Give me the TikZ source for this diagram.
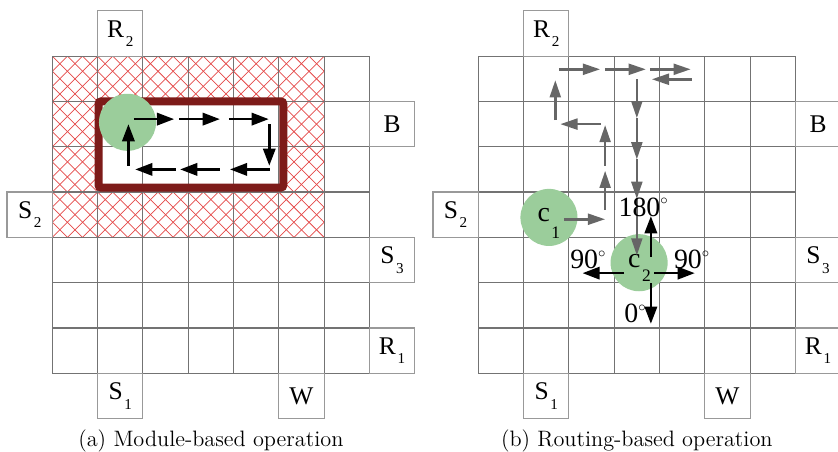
\documentclass[tikz,border=0pt]{standalone}
\usepackage{fontspec}
\usetikzlibrary{arrows.meta}
\newfontfamily\lblfont{Liberation Serif}
\definecolor{modred}{RGB}{125,27,25}
\definecolor{cellgreen}{RGB}{155,205,155}
\definecolor{routegray}{RGB}{102,102,102}
\definecolor{hatchred}{RGB}{228,72,72}
\newcommand{\sublbl}[2]{#1\kern1pt\raisebox{-6pt}{\fontsize{9.5}{9.5}\selectfont #2}}
\newcommand{\dropnum}[2]{c\kern1pt\smash{\raisebox{-#1}{\fontsize{11}{11}\selectfont #2}}}
\newcommand{\degsign}{\raisebox{7pt}{$\scriptscriptstyle\circ$}}

\begin{document}
\begin{tikzpicture}[x=1cm,y=1cm,
    gridline/.style={black!55,line width=0.7pt},
    cellbox/.style={draw=black!40,line width=0.7pt,minimum size=1cm,inner sep=0pt,font=\lblfont\fontsize{16}{16}\selectfont},
    angle/.style={font=\lblfont\fontsize{17.5}{17.5}\selectfont,anchor=base,inner sep=0pt},
    clbl/.style={font=\lblfont\fontsize{17.5}{17.5}\selectfont,anchor=base west,inner sep=0pt},
    cell/.style={circle,fill=cellgreen,minimum size=1.26cm,inner sep=0pt},
    blk/.style={line width=1.7pt,-{Triangle[length=0.38cm,width=0.27cm]}},
    gry/.style={routegray,line width=1.6pt,-{Triangle[length=0.38cm,width=0.24cm]}},
    subcap/.style={font=\fontsize{14}{16}\selectfont,anchor=base}]
    \useasboundingbox (-1.155,-1.737) rectangle (17.345,8.24);
    \begin{scope}
        \clip (0,3) rectangle (6,7);
        \foreach \k in {-12,...,18} {
            \draw[hatchred,line width=0.45pt] (\k/3,3) -- ++(4,4);
            \draw[hatchred,line width=0.45pt] (\k/3+4,3) -- ++(-4,4);
        }
    \end{scope}
    \fill[white] (1.02,4.1) rectangle (5.1,6);
    \foreach \ox/\p in {0/a,9.404/b} {
        \begin{scope}[shift={(\ox,0)}]
            \draw[gridline] (0,0) grid (7,7);
            \node[cellbox] (rtwo\p) at (1.5,7.5) {\sublbl{R}{2}};
            \node[cellbox] (stwo\p) at (-0.5,3.5) {\sublbl{S}{2}};
            \node[cellbox] (bin\p) at (7.5,5.5) {B};
            \node[cellbox] (sthree\p) at (7.5,2.5) {\sublbl{S}{3}};
            \node[cellbox] (rone\p) at (7.5,0.5) {\sublbl{R}{1}};
            \node[cellbox] (sone\p) at (1.5,-0.5) {\sublbl{S}{1}};
            \node[cellbox] (waste\p) at (5.5,-0.5) {W};
        \end{scope}
    }
    \draw[modred,line width=5pt,rounded corners=1.5pt] (1.02,4.1) rectangle (5.1,6);
    \node[cell] (modcell) at (1.66,5.54) {};
    \draw[blk] (1.80,5.61) -- (2.69,5.61);
    \draw[blk] (2.80,5.61) -- (3.70,5.61);
    \draw[blk] (3.90,5.61) -- (4.78,5.61);
    \draw[blk] (4.79,5.50) -- (4.79,4.58);
    \draw[blk] (4.80,4.50) -- (3.92,4.50);
    \draw[blk] (3.70,4.50) -- (2.82,4.50);
    \draw[blk] (2.72,4.50) -- (1.83,4.50);
    \draw[blk] (1.68,4.58) -- (1.68,5.50);
    \node[subcap] (capa) at (3.5,-1.62) {(a) Module-based operation};
    \begin{scope}[shift={(9.404,0)}]
        \node[cell] (cone) at (1.56,3.44) {};
        \node[cell] (ctwo) at (3.55,2.44) {};
        \node[clbl] (conelbl) at (1.30,3.35) {\dropnum{10.5pt}{1}};
        \node[clbl] (ctwolbl) at (3.30,2.34) {\dropnum{9pt}{2}};
        \draw[gry] (1.89,3.40) -- (2.80,3.40);
        \draw[gry] (2.80,3.60) -- (2.80,4.47);
        \draw[gry] (2.80,4.58) -- (2.80,5.48);
        \draw[gry] (2.70,5.50) -- (1.81,5.50);
        \draw[gry] (1.70,5.59) -- (1.70,6.47);
        \draw[gry] (1.78,6.71) -- (2.69,6.71);
        \draw[gry] (2.80,6.71) -- (3.70,6.71);
        \draw[gry] (3.79,6.71) -- (4.69,6.71);
        \draw[gry] (4.71,6.49) -- (3.83,6.49);
        \draw[gry] (3.50,6.49) -- (3.50,5.63);
        \draw[gry] (3.50,5.63) -- (3.50,4.72);
        \draw[gry] (3.50,4.72) -- (3.50,3.85);
        \draw[gry] (3.50,3.85) -- (3.50,2.60);
        \draw[blk] (3.81,2.57) -- (3.81,3.47);
        \draw[blk] (3.22,2.21) -- (2.30,2.21);
        \draw[blk] (3.88,2.21) -- (4.78,2.21);
        \draw[blk] (3.81,1.99) -- (3.81,1.09);
        \node[angle] (upang) at (3.64,3.47) {180\degsign};
        \node[angle] (leftang) at (2.42,2.32) {90\degsign};
        \node[angle] (rightang) at (4.71,2.32) {90\degsign};
        \node[angle] (downang) at (3.46,1.11) {0\degsign};
    \end{scope}
    \node[subcap] (capb) at (9.404+3.5,-1.62) {(b) Routing-based operation};
\end{tikzpicture}
\end{document}
